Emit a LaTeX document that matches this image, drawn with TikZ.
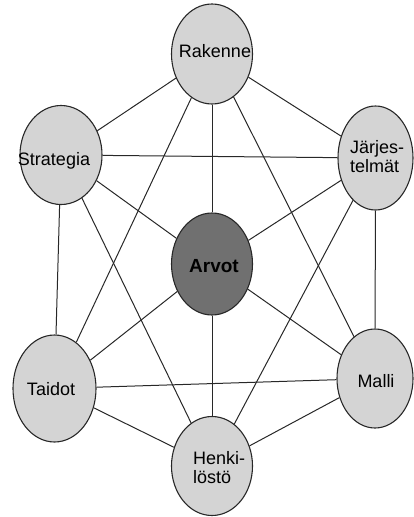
\documentclass[tikz,border=0pt]{standalone}
\usepackage{fontspec}
\setmainfont{Liberation Sans}
\usetikzlibrary{shapes.geometric}
\definecolor{lightfill}{RGB}{212,212,212}
\definecolor{darkfill}{RGB}{112,112,112}
\definecolor{edgecol}{RGB}{40,40,40}
\begin{document}
\begin{tikzpicture}[x=1pt,y=-1pt,
  oval/.style={ellipse, draw=edgecol, line width=1.1pt, fill=lightfill, inner sep=0pt},
  link/.style={draw=edgecol, line width=1pt},
  lbl/.style={font=\fontsize{18}{18.5}\selectfont, inner sep=0pt, anchor=base, text=black}]
\useasboundingbox (0,0) rectangle (413,517);
% ellipses
\node[oval, minimum width=81pt, minimum height=100pt] (rak) at (212,54) {};
\node[oval, minimum width=82pt, minimum height=99pt] (str) at (61,155) {};
\node[oval, minimum width=75pt, minimum height=104pt] (jar) at (375.5,158) {};
\node[oval, fill=darkfill, minimum width=81pt, minimum height=102pt] (arv) at (212,264) {};
\node[oval, minimum width=83pt, minimum height=107pt] (tai) at (54.5,388.5) {};
\node[oval, minimum width=76pt, minimum height=99pt] (mal) at (375,378.5) {};
\node[oval, minimum width=81pt, minimum height=99pt] (hen) at (212,466) {};
% connectors
\draw[link] (rak) -- (str);
\draw[link] (rak) -- (jar);
\draw[link] (rak) -- (arv);
\draw[link] (rak) -- (tai);
\draw[link] (rak) -- (mal);
\draw[link] (str) -- (jar);
\draw[link] (str) -- (arv);
\draw[link] (str) -- (tai);
\draw[link] (str) -- (hen);
\draw[link] (jar) -- (arv);
\draw[link] (jar) -- (mal);
\draw[link] (jar) -- (hen);
\draw[link] (arv) -- (tai);
\draw[link] (arv) -- (mal);
\draw[link] (arv) -- (hen);
\draw[link] (tai) -- (mal);
\draw[link] (tai) -- (hen);
\draw[link] (mal) -- (hen);
% labels
\node[lbl] (trak) at (215,57) {Rakenne};
\node[lbl] (tstr) at (54,165) {Strategia};
\node[lbl, anchor=base west, align=left] (tjar) at (350,172) {Järjes-\\telmät};
\node[lbl, font=\fontsize{19}{19}\selectfont\bfseries] (tarv) at (214,272) {Arvot};
\node[lbl] (ttai) at (51,395) {Taidot};
\node[lbl] (tmal) at (376,387) {Malli};
\node[lbl, anchor=base west, align=left] (then) at (193,483) {Henki-\\löstö};
\end{tikzpicture}
\end{document}
